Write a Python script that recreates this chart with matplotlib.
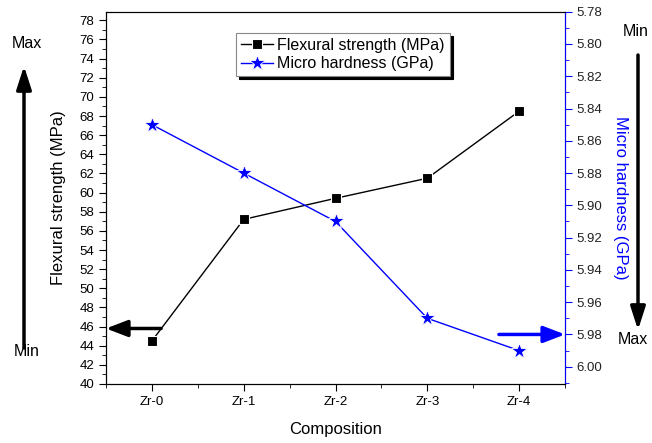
import numpy as np
import matplotlib
matplotlib.use("Agg")
import matplotlib.pyplot as plt
from matplotlib.ticker import MultipleLocator

plt.rcParams['font.family'] = ['Liberation Sans', 'DejaVu Sans']

# data
compositions = ["Zr-0", "Zr-1", "Zr-2", "Zr-3", "Zr-4"]
flexural = [44.5, 57.2, 59.4, 61.5, 68.5]
hardness = [5.85, 5.88, 5.91, 5.97, 5.99]

x = np.arange(len(compositions))

fig = plt.figure(figsize=(6.52, 4.43), dpi=100)
ax = fig.add_axes([0.1626, 0.1332, 0.704, 0.8404])
ax2 = ax.twinx()

# flexural strength (left axis)
l1, = ax.plot(x, flexural, color='black', lw=1.0, marker='s', ms=7,
              mec='white', mew=0.8, label='Flexural strength (MPa)')
ax.set_xlim(-0.5, 4.5)
ax.set_ylim(40, 78.9)
ax.yaxis.set_major_locator(MultipleLocator(2))
ax.yaxis.set_minor_locator(MultipleLocator(1))
ax.set_xticks(x)
ax.set_xticklabels(compositions)
ax.xaxis.set_minor_locator(MultipleLocator(0.5))
ax.tick_params(axis='both', which='both', direction='out', labelsize=9.5)
ax.tick_params(which='major', length=5)
ax.tick_params(which='minor', length=3)
ax.set_xlabel('Composition', fontsize=12, labelpad=10)
ax.set_ylabel('Flexural strength (MPa)', fontsize=12, labelpad=10)

# micro hardness (right axis, inverted)
l2, = ax2.plot(x, hardness, color='blue', lw=1.0, marker='*', ms=12,
               mec='white', mew=0.6, label='Micro hardness (GPa)')
ax2.set_ylim(6.0107, 5.78)
ax2.yaxis.set_major_locator(MultipleLocator(0.02))
ax2.yaxis.set_minor_locator(MultipleLocator(0.01))
ax2.yaxis.set_major_formatter(matplotlib.ticker.FormatStrFormatter('%.2f'))
ax2.tick_params(axis='y', which='both', direction='out', colors='blue',
                labelcolor='#222222', labelsize=9.5)
ax2.tick_params(which='major', length=5)
ax2.tick_params(which='minor', length=3)
ax2.spines['right'].set_color('blue')
ax2.set_ylabel('Micro hardness (GPa)', color='blue', fontsize=12,
               rotation=270, labelpad=18)

# legend with black drop shadow
leg = ax.legend(handles=[l1, l2], loc='upper left',
                bbox_to_anchor=(0.283, 0.942), fontsize=11.5, frameon=True,
                fancybox=False, edgecolor='#888888', borderpad=0.3,
                borderaxespad=0.0,
                handlelength=2.0, handletextpad=0.3, labelspacing=0.2,
                shadow={'color': 'black', 'alpha': 1.0})
leg.get_frame().set_linewidth(0.8)

# arrows pointing to the owning axis
ax.annotate('', xy=(-0.5, 45.8), xytext=(0.1, 45.8),
            arrowprops=dict(arrowstyle='-|>,head_length=1.3,head_width=0.5',
                            color='black', lw=2.5, shrinkA=0, shrinkB=0))
ax2.annotate('', xy=(4.5, 5.98), xytext=(3.78, 5.98),
             arrowprops=dict(arrowstyle='-|>,head_length=1.3,head_width=0.5',
                             color='blue', lw=2.5, shrinkA=0, shrinkB=0))

# Max / Min direction arrows outside the axes
fig.text(27 / 652, 1 - 43 / 443, 'Max', ha='center', va='center', fontsize=11.5)
fig.text(27 / 652, 1 - 352 / 443, 'Min', ha='center', va='center', fontsize=11.5)
ax.annotate('', xy=(24 / 652, 1 - 66 / 443), xytext=(24 / 652, 1 - 348 / 443),
            xycoords='figure fraction', textcoords='figure fraction',
            arrowprops=dict(arrowstyle='-|>,head_length=1.4,head_width=0.45',
                            color='black', lw=2.5, shrinkA=0, shrinkB=0),
            annotation_clip=False)
fig.text(636 / 652, 1 - 31 / 443, 'Min', ha='center', va='center', fontsize=11.5)
fig.text(633 / 652, 1 - 340 / 443, 'Max', ha='center', va='center', fontsize=11.5)
ax.annotate('', xy=(638 / 652, 1 - 330 / 443), xytext=(638 / 652, 1 - 55 / 443),
            xycoords='figure fraction', textcoords='figure fraction',
            arrowprops=dict(arrowstyle='-|>,head_length=1.4,head_width=0.45',
                            color='black', lw=2.5, shrinkA=0, shrinkB=0),
            annotation_clip=False)

fig.savefig('out.png', dpi=100)
